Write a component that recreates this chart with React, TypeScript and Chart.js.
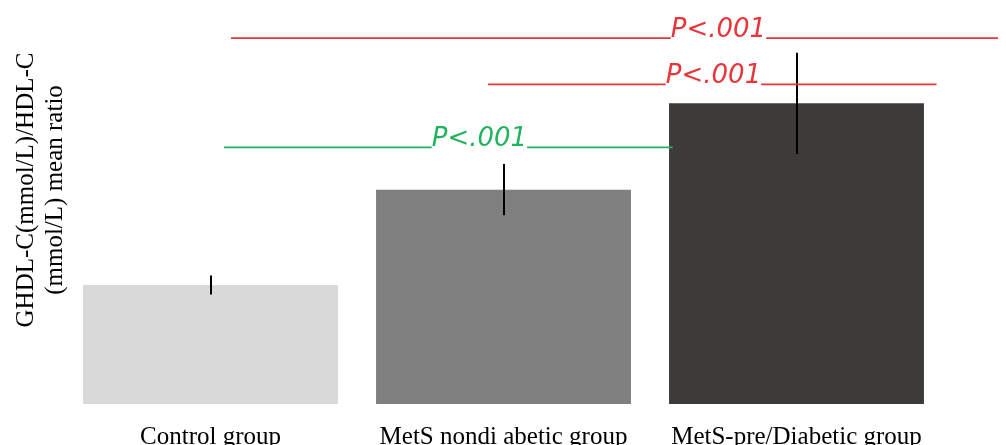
import React, { useEffect, useRef } from "react";
import { Chart, registerables } from "chart.js";

Chart.register(...registerables);

const categories = ["Control group", "MetS nondi abetic group", "MetS-pre/Diabetic group"];
const meanRatio = [0.4, 0.72, 1.01];
const errorHalf = [0.032, 0.086, 0.17];
const barColors = ["#d9d9d9", "#808080", "#3c3b39"];
const yTitleLines = ["GHDL-C(mmol/L)/HDL-C", "(mmol/L) mean ratio"];

// significance annotations (x in category index units, y in value units)
const sigLabels = ["P<.001", "P<.001", "P<.001"];
const sigLevels = [1.234, 1.079, 0.867];
const sigStart = [0.07, 0.947, 0.046];
const sigTextAt = [1.571, 1.554, 0.755];
const sigEnd = [2.8, 2.478, 1.577];
const sigColors = ["#e8353b", "#e8353b", "#22b35e"];

const SERIF = "'Liberation Serif', 'Times New Roman', serif";

const overlayPlugin = {
  id: "overlay",
  afterDatasetsDraw(chart: any) {
    const ctx = chart.ctx;
    const x = chart.scales.x;
    const y = chart.scales.y;
    const area = chart.chartArea;
    ctx.save();
    // error bars
    ctx.strokeStyle = "#000";
    ctx.lineWidth = 2;
    meanRatio.forEach((v, i) => {
      const px = Math.round(x.getPixelForValue(i));
      ctx.beginPath();
      ctx.moveTo(px, y.getPixelForValue(v + errorHalf[i]));
      ctx.lineTo(px, y.getPixelForValue(v - errorHalf[i]));
      ctx.stroke();
    });
    // significance lines
    ctx.font = "italic 200 26px 'DejaVu Sans', sans-serif";
    ctx.textBaseline = "alphabetic";
    ctx.textAlign = "left";
    sigLabels.forEach((lab, i) => {
      const py = y.getPixelForValue(sigLevels[i]);
      const x0 = x.getPixelForValue(sigStart[i]);
      const xt = x.getPixelForValue(sigTextAt[i]);
      const x1 = x.getPixelForValue(sigEnd[i]);
      const w = ctx.measureText(lab).width;
      ctx.fillStyle = sigColors[i];
      ctx.strokeStyle = sigColors[i];
      ctx.lineWidth = 1.8;
      ctx.beginPath();
      ctx.moveTo(x0, py + 1.5);
      ctx.lineTo(xt, py + 1.5);
      ctx.moveTo(xt + w, py + 1.5);
      ctx.lineTo(x1, py + 1.5);
      ctx.stroke();
      ctx.fillText(lab, xt, py);
    });
    // y-axis title
    ctx.fillStyle = "#000";
    ctx.font = `25px ${SERIF}`;
    ctx.textAlign = "center";
    const cy = area.bottom - 214;
    const baselines = [area.left - 31, area.left - 2];
    yTitleLines.forEach((t, i) => {
      ctx.save();
      ctx.translate(baselines[i], cy);
      ctx.rotate(-Math.PI / 2);
      ctx.fillText(t, 0, 0);
      ctx.restore();
    });
    ctx.restore();
  },
};

export default function App() {
  const ref = useRef<HTMLCanvasElement | null>(null);
  useEffect(() => {
    if (!ref.current) return;
    const chart = new Chart(ref.current, {
      type: "bar",
      data: {
        labels: categories,
        datasets: [
          {
            data: meanRatio,
            backgroundColor: barColors,
            borderWidth: 0,
            barPercentage: 0.87,
            categoryPercentage: 1,
          },
        ],
      },
      options: {
        animation: false,
        responsive: true,
        maintainAspectRatio: false,
        layout: { padding: { left: 56, right: 63, top: 9, bottom: -17 } },
        plugins: { legend: { display: false }, tooltip: { enabled: false } },
        scales: {
          x: {
            grid: { display: false, drawTicks: false },
            border: { display: false },
            ticks: {
              color: "#000",
              padding: 18,
              maxRotation: 0,
              autoSkip: false,
              font: { family: SERIF, size: 25 },
            },
          },
          y: {
            display: false,
            min: 0,
            max: 1.3,
          },
        },
      },
      plugins: [overlayPlugin],
    });
    return () => chart.destroy();
  }, []);
  return (
    <div style={{ position: "relative", width: 998, height: 445 }}>
      <canvas ref={ref} />
    </div>
  );
}
